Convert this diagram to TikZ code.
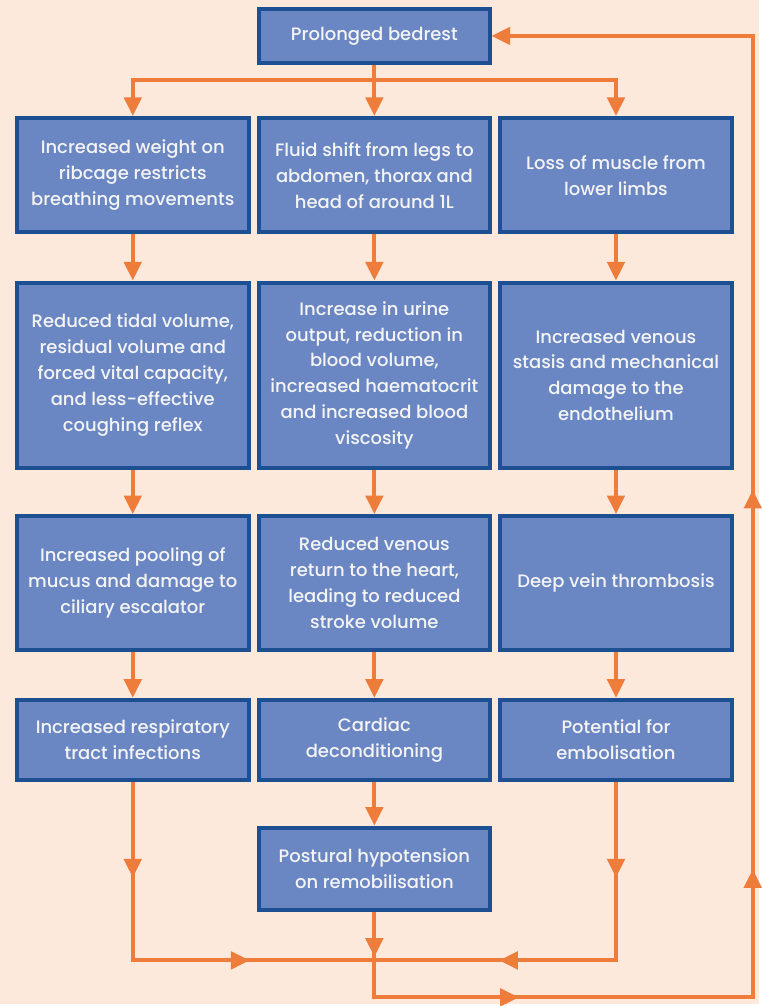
\documentclass[tikz,border=0pt]{standalone}
\usepackage{fontspec}
\setmainfont{Poppins}[UprightFont=* Medium]
\usetikzlibrary{arrows.meta,decorations.markings}
\definecolor{Peach}{HTML}{FCE9DB}
\definecolor{BoxFill}{HTML}{6A87C3}
\definecolor{BoxLine}{HTML}{1D4F93}
\definecolor{Flow}{HTML}{EE7D3B}
\definecolor{Ink}{HTML}{F4F4F4}
\tikzset{midarr/.style={postaction={decorate,decoration={markings,
  mark=at position #1 with {\arrow{Triangle[length=14pt,width=13pt]}}}}}}

\begin{document}
\begin{tikzpicture}[x=0.75pt,y=-0.75pt]
      \tikzstyle{box}=[draw=BoxLine, fill=BoxFill, line width=3pt, text=Ink,
        minimum width=174pt, align=center, inner sep=0pt,
        font=\fontsize{13.5}{19.5}\selectfont]
      \tikzstyle{flow}=[draw=Flow, line width=3pt]
      \tikzstyle{arr}=[flow, -{Triangle[length=14pt,width=13pt]}]
      \fill[Peach] (0,0) rectangle (760,1006);
      \node[box, minimum width=173pt, minimum height=41pt] (p) at (375,36) {Prolonged bedrest};
      \node[box, minimum height=86pt] (l1) at (133,175.5) {Increased weight on\\ribcage restricts\\breathing movements};
      \node[box, minimum height=86pt] (m1) at (375,175.5) {Fluid shift from legs to\\abdomen, thorax and\\head of around 1L};
      \node[box, minimum height=86pt] (r1) at (617,175.5) {Loss of muscle from\\lower limbs};
      \node[box, minimum height=139.5pt] (l2) at (133,376) {Reduced tidal volume,\\residual volume and\\forced vital capacity,\\and less-effective\\coughing reflex};
      \node[box, minimum height=139.5pt] (m2) at (375,376) {Increase in urine\\output, reduction in\\blood volume,\\increased haematocrit\\and increased blood\\viscosity};
      \node[box, minimum height=139.5pt] (r2) at (617,376) {Increased venous\\stasis and mechanical\\damage to the\\endothelium};
      \node[box, minimum height=100.5pt] (l3) at (133,584) {Increased pooling of\\mucus and damage to\\ciliary escalator};
      \node[box, minimum height=100.5pt] (m3) at (375,584) {Reduced venous\\return to the heart,\\leading to reduced\\stroke volume};
      \node[box, minimum height=100.5pt] (r3) at (617,584) {Deep vein thrombosis};
      \node[box, minimum height=60pt] (l4) at (133,741) {Increased respiratory\\tract infections};
      \node[box, minimum height=60pt] (m4) at (375,741) {Cardiac\\deconditioning};
      \node[box, minimum height=60pt] (r4) at (617,741) {Potential for\\embolisation};
      \node[box, minimum width=173pt, minimum height=61.5pt] (ph) at (375,870) {Postural hypotension\\on remobilisation};
      \coordinate (split) at (375,80);
      \coordinate (join) at (375,962);
      \coordinate (bl) at (375,999);
      \coordinate (br) at (754,999);
      \coordinate (tr) at (754,36);
      % from bedrest to the three columns
      \draw[flow] (p) -- (split);
      \draw[arr] (split) -| (l1);
      \draw[arr] (p) -- (m1);
      \draw[arr] (split) -| (r1);
      \foreach \c in {l,m,r} {
        \draw[arr] (\c1) -- (\c2);
        \draw[arr] (\c2) -- (\c3);
        \draw[arr] (\c3) -- (\c4);
      }
      \draw[arr] (m4) -- (ph);
      % back to bedrest
      \draw[flow, midarr=72pt, midarr=222pt] (l4) |- (join);
      \draw[flow, midarr=72pt, midarr=222pt] (r4) |- (join);
      \draw[arr, midarr=34pt, midarr=173pt, midarr=445pt, midarr=730pt] (ph) -- (bl) -- (br) -- (tr) -- (p);
    \end{tikzpicture}
\end{document}
